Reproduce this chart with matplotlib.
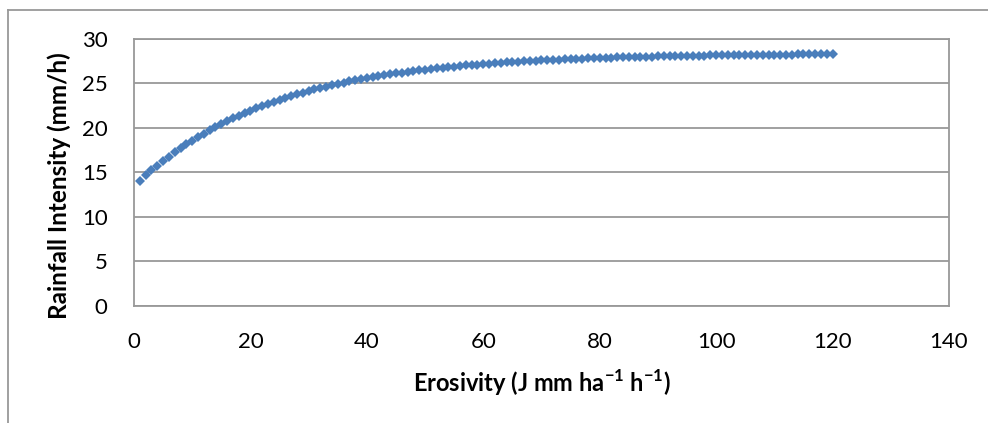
import matplotlib
matplotlib.use("Agg")
import matplotlib.pyplot as plt
from matplotlib.lines import Line2D

plt.rcParams['font.family'] = ['Lato', 'DejaVu Sans']
plt.rcParams['mathtext.fontset'] = 'custom'
plt.rcParams['mathtext.rm'] = 'Lato'
plt.rcParams['mathtext.bf'] = 'Lato:bold'

# erosivity (x) and rainfall intensity (y)
erosivity = list(range(1, 121))
intensity = [
    14.06, 14.65, 15.21, 15.75, 16.27, 16.77, 17.25, 17.70, 18.14, 18.56,
    18.96, 19.35, 19.72, 20.07, 20.41, 20.74, 21.05, 21.35, 21.64, 21.92,
    22.18, 22.44, 22.68, 22.91, 23.14, 23.35, 23.56, 23.75, 23.94, 24.12,
    24.30, 24.46, 24.62, 24.78, 24.92, 25.07, 25.20, 25.33, 25.45, 25.57,
    25.69, 25.80, 25.90, 26.00, 26.10, 26.19, 26.28, 26.37, 26.45, 26.53,
    26.60, 26.67, 26.74, 26.81, 26.87, 26.93, 26.99, 27.05, 27.10, 27.15,
    27.20, 27.25, 27.29, 27.34, 27.38, 27.42, 27.46, 27.49, 27.53, 27.56,
    27.60, 27.63, 27.66, 27.68, 27.71, 27.74, 27.76, 27.79, 27.81, 27.83,
    27.85, 27.87, 27.89, 27.91, 27.93, 27.95, 27.96, 27.98, 27.99, 28.01,
    28.02, 28.04, 28.05, 28.06, 28.07, 28.09, 28.10, 28.11, 28.12, 28.13,
    28.14, 28.14, 28.15, 28.16, 28.17, 28.18, 28.18, 28.19, 28.20, 28.20,
    28.21, 28.21, 28.22, 28.23, 28.23, 28.24, 28.24, 28.24, 28.25, 28.25,
]
xticks = [0, 20, 40, 60, 80, 100, 120, 140]
yticks = [0, 5, 10, 15, 20, 25, 30]

fig = plt.figure(figsize=(9.88, 4.23), dpi=100)
ax = fig.add_axes([0.1356, 0.2766, 0.8249, 0.632])

grey = '#999999'
ax.plot(erosivity, intensity, linestyle='none', marker='D', markersize=4.8,
        color='#4a7ebb', markeredgewidth=0)

ax.set_xlim(0, 140)
ax.set_ylim(0, 30)
ax.set_xticks(xticks)
ax.set_yticks(yticks)
ax.grid(axis='y', color=grey, linewidth=1.3)
ax.set_axisbelow(True)
for s in ax.spines.values():
    s.set_color(grey)
    s.set_linewidth(1.3)
ax.tick_params(length=0, labelsize=16, colors='black')
ax.tick_params(axis='y', pad=19)
ax.tick_params(axis='x', pad=19)

fig.text(0.5481, 0.094, r'Erosivity (J mm ha$^{\mathbf{-1}}$ h$^{\mathbf{-1}}$)',
         ha='center', va='center', fontsize=17, fontweight='bold')
fig.text(0.060, 0.56, 'Rainfall Intensity (mm/h)', rotation=90,
         ha='center', va='center', fontsize=17.5, fontweight='bold')

# outer chart frame (top and left edges only)
fig.add_artist(Line2D([8/988, 1.0], [1 - 10/423, 1 - 10/423],
                      transform=fig.transFigure, color=grey, linewidth=1.3))
fig.add_artist(Line2D([8/988, 8/988], [0.0, 1 - 10/423],
                      transform=fig.transFigure, color=grey, linewidth=1.3))

fig.savefig('out.png', dpi=100)
